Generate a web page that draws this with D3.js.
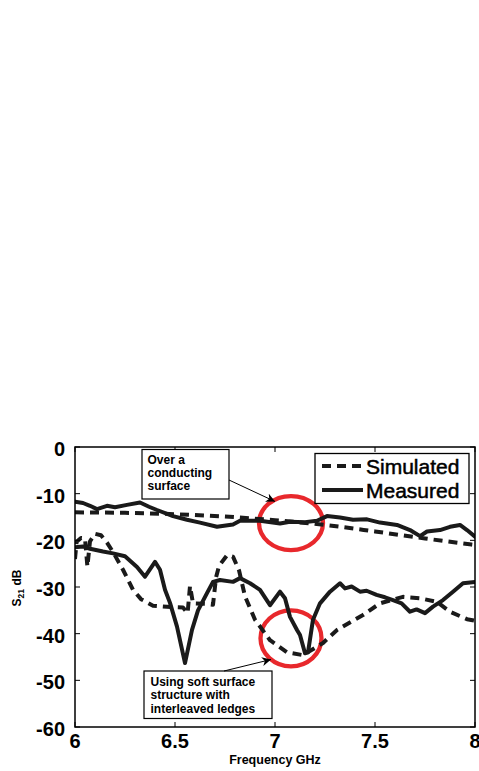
<!DOCTYPE html>
<html>
<head>
<meta charset="utf-8">
<script src="https://cdn.jsdelivr.net/npm/d3@7"></script>
<style>
  body { margin: 0; background: #fff; }
  svg { display: block; }
  text { font-family: "Liberation Sans", Arial, Helvetica, sans-serif; }
</style>
</head>
<body>
<svg id="chart" width="479" height="771"></svg>
<script>
// ---- data (frequency GHz, S21 dB) ----
const xTicks = [6, 6.5, 7, 7.5, 8];
const xTickLabels = ["6", "6.5", "7", "7.5", "8"];
const yTicks = [0, -10, -20, -30, -40, -50, -60];
const yTickLabels = ["0", "-10", "-20", "-30", "-40", "-50", "-60"];
const seriesNames = ["Simulated", "Measured"];

// Over a conducting surface
const simConducting = [[6,-14],[6.25,-14.1],[6.5,-14.4],[6.75,-14.9],[7,-15.7],[7.25,-16.7],[7.5,-18.1],[7.75,-19.6],[8,-21]];
const measConducting = [[6.0,-11.7],[6.04,-12.0],[6.075,-12.6],[6.11,-13.3],[6.16,-12.6],[6.2,-12.9],[6.26,-12.4],[6.325,-11.9],[6.37,-12.8],[6.41,-13.5],[6.49,-14.8],[6.56,-15.6],[6.625,-16.2],[6.71,-17.1],[6.79,-16.6],[6.825,-15.8],[6.925,-15.8],[7.025,-16.4],[7.075,-16.0],[7.15,-16.1],[7.21,-15.8],[7.26,-14.8],[7.325,-15.1],[7.39,-15.6],[7.46,-15.5],[7.525,-16.2],[7.61,-16.7],[7.675,-17.8],[7.725,-19.1],[7.76,-18.1],[7.825,-17.8],[7.875,-17.1],[7.925,-16.7],[7.96,-17.8],[8.0,-19.2]];

// Using soft surface structure
const simSoft = [[6.0,-24],[6.008,-20.3],[6.03,-19.5],[6.05,-19.6],[6.062,-25.6],[6.075,-20.2],[6.1,-18.6],[6.13,-18.9],[6.16,-20.5],[6.19,-22.5],[6.24,-26.3],[6.29,-30.6],[6.33,-32.6],[6.39,-34],[6.48,-34.3],[6.54,-34.4],[6.563,-35.6],[6.575,-29.8],[6.59,-33.5],[6.65,-33.6],[6.69,-33.8],[6.705,-28],[6.72,-25.5],[6.76,-23.2],[6.79,-23.5],[6.82,-26.4],[6.85,-32],[6.9,-37],[6.975,-41.4],[7.06,-44],[7.14,-44.6],[7.24,-42],[7.31,-39.2],[7.44,-36],[7.525,-33.5],[7.64,-32.1],[7.725,-32.4],[7.81,-33.2],[7.875,-35.3],[7.96,-36.9],[8.0,-37.2]];
const measSoft = [[6.0,-21.5],[6.04,-21.3],[6.075,-21.8],[6.14,-22.4],[6.19,-22.8],[6.25,-23.4],[6.31,-25.7],[6.35,-27.8],[6.4,-24.6],[6.425,-26.3],[6.45,-30.6],[6.475,-33.4],[6.51,-38.5],[6.55,-46.3],[6.585,-39.2],[6.615,-35],[6.66,-31.3],[6.69,-28.9],[6.725,-28.5],[6.79,-28.9],[6.825,-28.1],[6.875,-29.2],[6.925,-30.6],[6.975,-33.9],[7.025,-31],[7.05,-32.4],[7.075,-36.4],[7.11,-39.2],[7.125,-40.3],[7.15,-44.2],[7.165,-44],[7.19,-37],[7.225,-33.5],[7.275,-31],[7.325,-29.2],[7.35,-30.3],[7.383,-29.9],[7.425,-31],[7.458,-30.8],[7.508,-31.7],[7.55,-32.2],[7.59,-32.8],[7.633,-33.5],[7.675,-35.3],[7.708,-34.8],[7.75,-35.6],[7.79,-34.2],[7.84,-32.8],[7.89,-31],[7.94,-29.2],[8.0,-28.9]];

// annotations
const noteConducting = ["Over a", "conducting", "surface"];
const noteSoft = ["Using soft surface", "structure with", "interleaved ledges"];

// ---- layout ----
const svg = d3.select("#chart");
const pLeft = 75, pRight = 475, pTop = 447, pBottom = 727;
const x = d3.scaleLinear().domain([6, 8]).range([pLeft, pRight]);
const y = d3.scaleLinear().domain([-60, 0]).range([pBottom, pTop]);

const defs = svg.append("defs");
defs.append("clipPath").attr("id", "plotclip")
  .append("rect").attr("x", pLeft).attr("y", pTop).attr("width", pRight - pLeft).attr("height", pBottom - pTop);

const lineGen = d3.line().x(d => x(d[0])).y(d => y(d[1]));
const smoothGen = d3.line().x(d => x(d[0])).y(d => y(d[1])).curve(d3.curveMonotoneX);

const red = "#e8282c";

// red ellipses (annotation highlights), centres in data coords
const ellipses = [
  {cx: 7.08, cy: -16.3, rx: 32, ry: 27},
  {cx: 7.08, cy: -41.0, rx: 30.5, ry: 28}
];

ellipses.forEach(e => {
  svg.append("ellipse")
    .attr("cx", x(e.cx)).attr("cy", y(e.cy))
    .attr("rx", e.rx).attr("ry", e.ry)
    .attr("fill", "none").attr("stroke", red).attr("stroke-width", 4.3);
});

const plot = svg.append("g").attr("clip-path", "url(#plotclip)");

function dashed(data, gen) {
  plot.append("path").attr("d", gen(data)).attr("fill", "none")
    .attr("stroke", "#1a1a1a").attr("stroke-width", 4)
    .attr("stroke-dasharray", "9,6").attr("stroke-linejoin", "round");
}
function solid(data) {
  plot.append("path").attr("d", lineGen(data)).attr("fill", "none")
    .attr("stroke", "#1a1a1a").attr("stroke-width", 4)
    .attr("stroke-linejoin", "round").attr("stroke-linecap", "round");
}
dashed(simConducting, smoothGen);
dashed(simSoft, lineGen);
solid(measConducting);
solid(measSoft);

// ---- axes ----
const axG = svg.append("g");
axG.append("rect").attr("x", pLeft).attr("y", pTop).attr("width", pRight - pLeft).attr("height", pBottom - pTop)
  .attr("fill", "none").attr("stroke", "#000").attr("stroke-width", 1.5);

const tickLen = 5;
xTicks.forEach((t, i) => {
  axG.append("line").attr("x1", x(t)).attr("x2", x(t)).attr("y1", pBottom).attr("y2", pBottom - tickLen).attr("stroke", "#000").attr("stroke-width", 1);
  axG.append("line").attr("x1", x(t)).attr("x2", x(t)).attr("y1", pTop).attr("y2", pTop + tickLen).attr("stroke", "#000").attr("stroke-width", 1);
  axG.append("text").attr("x", x(t)).attr("y", 748).attr("text-anchor", "middle")
    .attr("font-size", 20).attr("font-weight", "bold").text(xTickLabels[i]);
});
yTicks.forEach((t, i) => {
  axG.append("line").attr("x1", pLeft).attr("x2", pLeft + tickLen).attr("y1", y(t)).attr("y2", y(t)).attr("stroke", "#000").attr("stroke-width", 1);
  axG.append("line").attr("x1", pRight).attr("x2", pRight - tickLen).attr("y1", y(t)).attr("y2", y(t)).attr("stroke", "#000").attr("stroke-width", 1);
  axG.append("text").attr("x", 65).attr("y", y(t) + 9).attr("text-anchor", "end")
    .attr("font-size", 20).attr("font-weight", "bold").text(yTickLabels[i]);
});

// axis titles
svg.append("text").attr("x", x(7)).attr("y", 763.5).attr("text-anchor", "middle")
  .attr("font-size", 12.5).attr("font-weight", "bold").text("Frequency GHz");
const yl = svg.append("text").attr("transform", "translate(21,588) rotate(-90)")
  .attr("text-anchor", "middle").attr("font-size", 12).attr("font-weight", "bold");
yl.append("tspan").text("S");
yl.append("tspan").attr("font-size", 8.5).attr("dy", 3).text("21");
yl.append("tspan").attr("dy", -3).text(" dB");

// ---- legend ----
const lg = svg.append("g");
lg.append("rect").attr("x", 315).attr("y", 453.5).attr("width", 154).attr("height", 50)
  .attr("fill", "#fff").attr("stroke", "#000").attr("stroke-width", 1.3);
lg.append("line").attr("x1", 322).attr("x2", 363).attr("y1", 466).attr("y2", 466)
  .attr("stroke", "#1a1a1a").attr("stroke-width", 4).attr("stroke-dasharray", "9,6");
lg.append("line").attr("x1", 322).attr("x2", 363).attr("y1", 490).attr("y2", 490)
  .attr("stroke", "#1a1a1a").attr("stroke-width", 4);
lg.append("text").attr("x", 366).attr("y", 474).attr("font-size", 21)
  .attr("stroke", "#000").attr("stroke-width", 0.5).text(seriesNames[0]);
lg.append("text").attr("x", 366).attr("y", 498).attr("font-size", 21)
  .attr("stroke", "#000").attr("stroke-width", 0.5).text(seriesNames[1]);

// ---- annotation boxes with arrows ----
defs.append("marker").attr("id", "arrow").attr("viewBox", "0 0 10 10").attr("refX", 10).attr("refY", 5)
  .attr("markerWidth", 9).attr("markerHeight", 9).attr("markerUnits", "userSpaceOnUse").attr("orient", "auto")
  .append("path").attr("d", "M0,0 L10,5 L0,10 L3,5 Z").attr("fill", "#000");

function noteBox(bx, by, bw, bh, lines, tx, ty0) {
  svg.append("rect").attr("x", bx).attr("y", by).attr("width", bw).attr("height", bh)
    .attr("fill", "#fff").attr("stroke", "#000").attr("stroke-width", 1.2);
  lines.forEach((s, i) => {
    svg.append("text").attr("x", tx).attr("y", ty0 + i * 13.4)
      .attr("font-size", 12).attr("font-weight", "bold").text(s);
  });
}
noteBox(142, 449.5, 87, 49.5, noteConducting, 147.5, 463.5);
noteBox(144, 671, 128, 47.5, noteSoft, 150.5, 686);

svg.append("line").attr("x1", 229).attr("y1", 480).attr("x2", 275).attr("y2", 501.5)
  .attr("stroke", "#000").attr("stroke-width", 1).attr("marker-end", "url(#arrow)");
svg.append("line").attr("x1", 224).attr("y1", 671).attr("x2", 271).attr("y2", 659.5)
  .attr("stroke", "#000").attr("stroke-width", 1).attr("marker-end", "url(#arrow)");
</script>
</body>
</html>
